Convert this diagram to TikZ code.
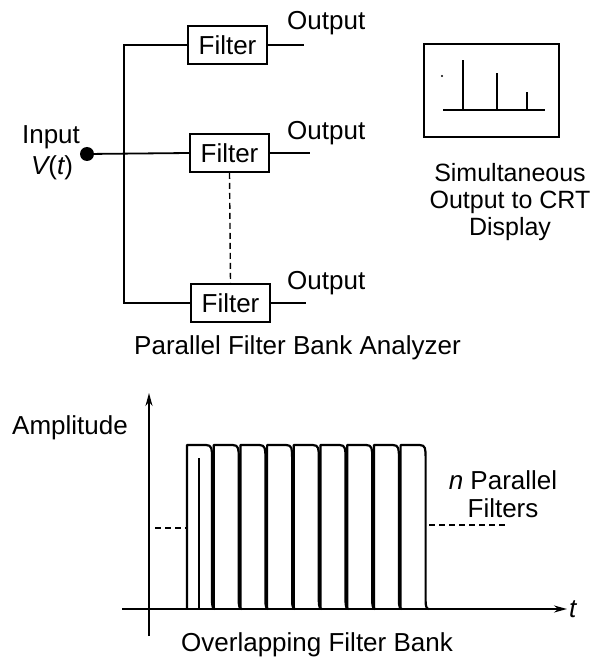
\documentclass[tikz,border=0pt]{standalone}
\usepackage{fontspec}
\setmainfont{Liberation Sans}
\usetikzlibrary{arrows.meta}
\begin{document}
\begin{tikzpicture}[x=1pt,y=-1pt,
  ln/.style={line width=1.8pt},
  dsh/.style={line width=1.4pt,dash pattern=on 6pt off 4pt},
  filt/.style={draw,line width=1.8pt,minimum width=79pt,minimum height=38pt,inner sep=0pt,font=\fontsize{26}{26}\selectfont},
  lbl/.style={inner sep=0pt,font=\fontsize{26}{28}\selectfont},
  arr/.style={line width=1.8pt,-{Stealth[length=13pt,width=7pt]}}]
\useasboundingbox (0,0) rectangle (599,660);
% --- parallel filter bank ---
\node[filt] (f1) at (227.5,45) {Filter};
\node[filt] (f2) at (229.5,153) {Filter};
\node[filt] (f3) at (230.5,303) {Filter};
\node[circle,fill,inner sep=0pt,minimum size=14pt] (in) at (87,154) {};
\coordinate (bt) at (124,45);
\coordinate (bb) at (124,303);
\draw[ln] (f1.west) -- (bt) -- (bb) -- (f3.west);
\draw[ln] (in) -- (f2.west);
\draw[dsh] (f2.south) -- (f3.north);
\coordinate (o1) at (304,45);
\coordinate (o2) at (310,153);
\coordinate (o3) at (306,303);
\draw[ln] (f1.east) -- (o1);
\draw[ln] (f2.east) -- (o2);
\draw[ln] (f3.east) -- (o3);
\node[lbl,anchor=west] (out1) at (287,23) {Output};
\node[lbl,anchor=west] (out2) at (287,133) {Output};
\node[lbl,anchor=west] (out3) at (287,283) {Output};
\node[lbl] (inl) at (51,137) {Input};
\node[lbl] (vt) at (52,168) {\itshape V\upshape(\itshape t\upshape)};
\node[lbl,anchor=west] (cap1) at (134,348) {Parallel Filter Bank Analyzer};
% --- CRT display ---
\node[draw,line width=1.8pt,minimum width=135pt,minimum height=93pt,inner sep=0pt] (crt) at (491.5,90.5) {};
\coordinate (bl) at (443,110);
\coordinate (br) at (545,110);
\draw[line width=1.5pt] (bl) -- (br);
\draw[line width=1.5pt] (463,110) -- (463,60);
\draw[line width=1.5pt] (497,110) -- (497,73);
\draw[line width=1.5pt] (527,110) -- (527,92);
\fill (442,76) circle (1.2pt);
\node[inner sep=0pt,font=\fontsize{25}{27}\selectfont,align=center] (crtl) at (510,202) {Simultaneous\\Output to CRT\\Display};
% --- overlapping filter bank ---
\coordinate (yb) at (149,636);
\coordinate (yt) at (149,393);
\coordinate (xl) at (122,609);
\coordinate (xr) at (567,609);
\draw[arr] (yb) -- (yt);
\draw[arr] (xl) -- (xr);
\node[lbl,anchor=west] (tl) at (569,609) {\itshape t};
\node[lbl,anchor=west] (amp) at (12,428) {Amplitude};
\foreach \k in {0,...,8}{
  \pgfmathsetmacro{\xa}{187+26.7*\k}
  \draw[line width=2.2pt,line join=round] (\xa,609) -- (\xa,445) -- ({\xa+19},445)
    .. controls ({\xa+25},445) and ({\xa+25},449) .. ({\xa+25},458)
    -- ({\xa+25},601) .. controls ({\xa+25},606) and ({\xa+26},609) .. ({\xa+28},609);
}
\draw[line width=1.8pt] (199,458) -- (199,609);
\draw[dsh] (155,528) -- (188,528);
\draw[dsh] (429,525) -- (505,525);
\node[lbl,align=center] (npf) at (503,494) {\itshape n\upshape{} Parallel\\Filters};
\node[lbl,anchor=west] (cap2) at (181,645) {Overlapping Filter Bank};
\end{tikzpicture}
\end{document}
